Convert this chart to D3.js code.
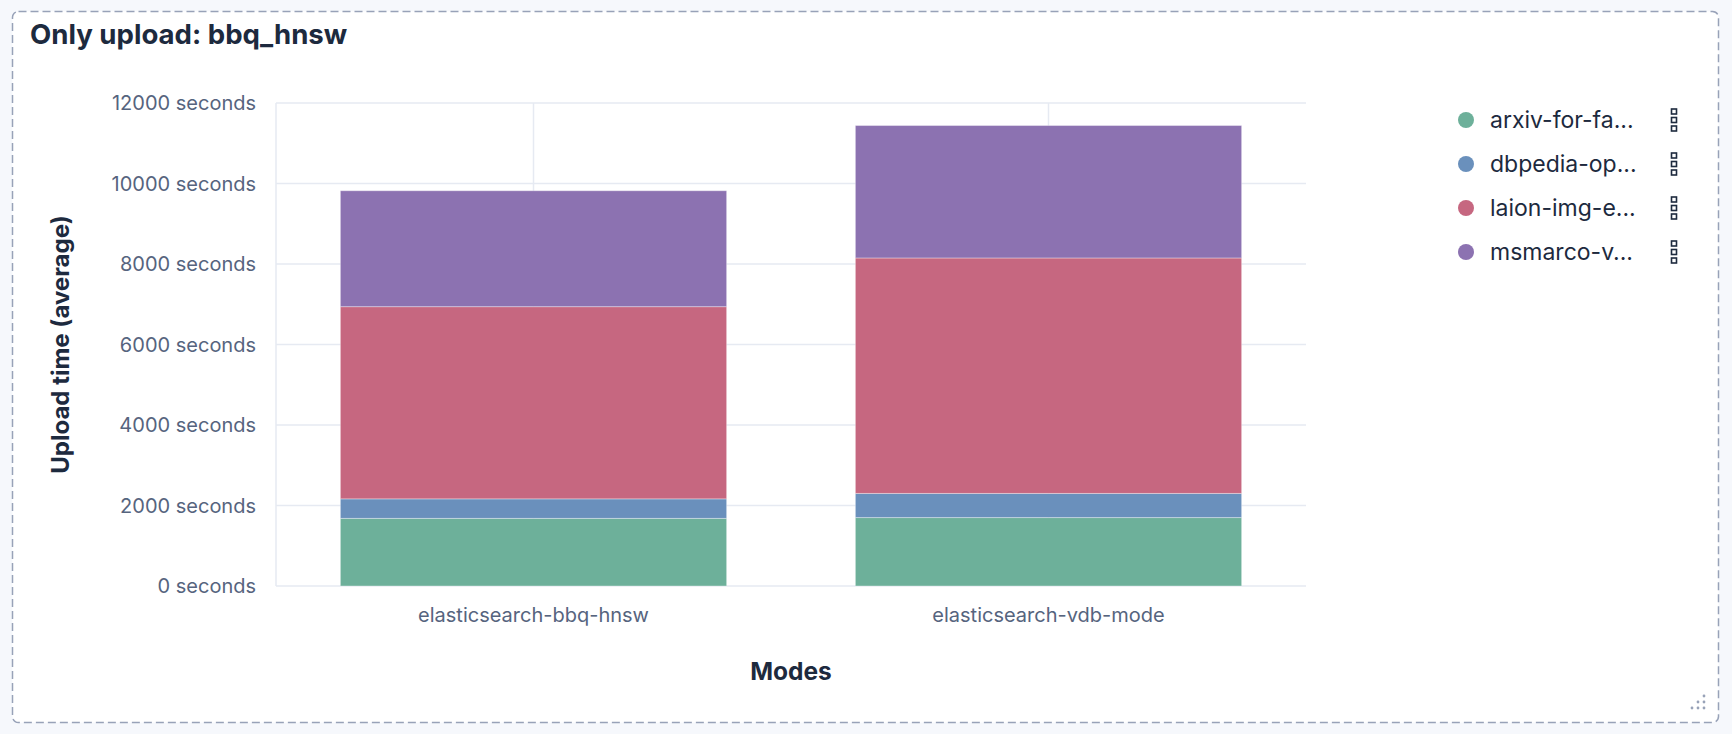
<!DOCTYPE html>
<html>
<head>
<meta charset="utf-8">
<script src="https://cdn.jsdelivr.net/npm/d3@7/dist/d3.min.js"></script>
<style>
  html, body { margin: 0; padding: 0; background: #f6f8fc; }
  svg { display: block; font-family: Inter, "Noto Sans", sans-serif; }
</style>
</head>
<body>
<svg id="chart" width="1732" height="734"></svg>
<script>
// ---- data ----
const title = "Only upload: bbq_hnsw";
const categories = ["elasticsearch-bbq-hnsw", "elasticsearch-vdb-mode"];
const seriesNames = ["arxiv-for-fa...", "dbpedia-op...", "laion-img-e...", "msmarco-v..."];
const seriesColors = ["#6DB09A", "#6A90BC", "#C66780", "#8C72B1"];
const arxivValues   = [1680, 1700];
const dbpediaValues = [485, 600];
const laionValues   = [4775, 5850];
const msmarcoValues = [2880, 3290];
const yTicks = [0, 2000, 4000, 6000, 8000, 10000, 12000];
const yAxisTitle = "Upload time (average)";
const xAxisTitle = "Modes";

// ---- layout ----
const svg = d3.select("#chart");
const plot = { left: 276, right: 1306, top: 103, bottom: 586 };
const textDark = "#1d2a3e", tickColor = "#56647e", gridColor = "#e6eaf2", borderColor = "#98a2b8";

// panel
svg.append("rect")
  .attr("x", 12.5).attr("y", 11.5).attr("width", 1706).attr("height", 711)
  .attr("rx", 6).attr("fill", "#ffffff")
  .attr("stroke", borderColor).attr("stroke-width", 1.5)
  .attr("stroke-dasharray", "8,4");

svg.append("text")
  .attr("x", 30).attr("y", 44)
  .attr("fill", textDark).attr("font-size", 27.6).attr("font-weight", 700)
  .text(title);

// scales
const x = d3.scaleBand().domain(categories).range([plot.left, plot.right])
  .paddingInner(0.25).paddingOuter(0.125);
const y = d3.scaleLinear().domain([0, 12000]).range([plot.bottom, plot.top]);

// stack data
const seriesValues = [arxivValues, dbpediaValues, laionValues, msmarcoValues];
const rows = categories.map((c, i) => {
  const r = { cat: c };
  seriesNames.forEach((s, k) => r[s] = seriesValues[k][i]);
  return r;
});
const stacked = d3.stack().keys(seriesNames)(rows);

// grid
const g = svg.append("g");
g.selectAll("line.h").data(yTicks).join("line")
  .attr("x1", plot.left).attr("x2", plot.right)
  .attr("y1", d => y(d)).attr("y2", d => y(d))
  .attr("stroke", gridColor).attr("stroke-width", 1.5);
g.selectAll("line.v").data(categories).join("line")
  .attr("x1", d => x(d) + x.bandwidth() / 2).attr("x2", d => x(d) + x.bandwidth() / 2)
  .attr("y1", plot.top).attr("y2", plot.bottom)
  .attr("stroke", gridColor).attr("stroke-width", 1.5);
g.append("line")
  .attr("x1", plot.left).attr("x2", plot.left)
  .attr("y1", plot.top).attr("y2", plot.bottom)
  .attr("stroke", gridColor).attr("stroke-width", 1.5);

// bars
svg.append("g").selectAll("g").data(stacked).join("g")
  .attr("fill", (d, i) => seriesColors[i])
  .selectAll("rect").data(d => d).join("rect")
  .attr("x", d => x(d.data.cat))
  .attr("width", x.bandwidth())
  .attr("y", d => y(d[1]))
  .attr("height", d => y(d[0]) - y(d[1]))
  .attr("stroke", "rgba(255,255,255,0.35)").attr("stroke-width", 1);

// y axis labels
svg.append("g").selectAll("text").data(yTicks).join("text")
  .attr("x", plot.left - 20).attr("y", d => y(d)).attr("dy", "0.36em")
  .attr("text-anchor", "end").attr("fill", tickColor).attr("font-size", 20)
  .text(d => d + " seconds");

// x axis labels
svg.append("g").selectAll("text").data(categories).join("text")
  .attr("x", d => x(d) + x.bandwidth() / 2).attr("y", 622)
  .attr("text-anchor", "middle").attr("fill", tickColor).attr("font-size", 20)
  .text(d => d);

// axis titles
svg.append("text")
  .attr("transform", `translate(69,${(plot.top + plot.bottom) / 2}) rotate(-90)`)
  .attr("text-anchor", "middle").attr("fill", textDark)
  .attr("font-size", 24).attr("font-weight", 700)
  .text(yAxisTitle);
svg.append("text")
  .attr("x", (plot.left + plot.right) / 2).attr("y", 680)
  .attr("text-anchor", "middle").attr("fill", textDark)
  .attr("font-size", 24.5).attr("font-weight", 700)
  .text(xAxisTitle);

// legend
const leg = svg.append("g").selectAll("g").data(seriesNames).join("g")
  .attr("transform", (d, i) => `translate(1466,${120 + i * 44})`);
leg.append("circle").attr("r", 8).attr("fill", (d, i) => seriesColors[i]);
leg.append("text").attr("x", 24).attr("dy", "0.36em")
  .attr("fill", textDark).attr("font-size", 23).text(d => d);
[-8.5, 0, 8.5].forEach(off => {
  leg.append("rect").attr("x", 205.5).attr("y", off - 2.5)
    .attr("width", 5).attr("height", 5)
    .attr("fill", "none").attr("stroke", textDark).attr("stroke-width", 1.6);
});

// resize handle dots
const dots = [[1704,696],[1698,702],[1704,702],[1692,708],[1698,708],[1704,708]];
svg.append("g").selectAll("circle").data(dots).join("circle")
  .attr("cx", d => d[0]).attr("cy", d => d[1]).attr("r", 1.4).attr("fill", borderColor);
</script>
</body>
</html>
